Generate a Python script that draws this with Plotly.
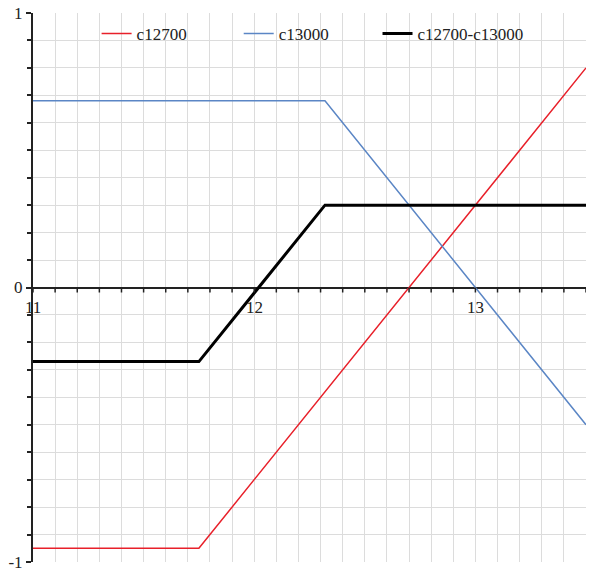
import numpy as np
import plotly.graph_objects as go

# values
x_c12700 = [11.0, 11.75, 13.5]
y_c12700 = [-0.95, -0.95, 0.80]

x_c13000 = [11.0, 12.32, 13.5]
y_c13000 = [0.68, 0.68, -0.50]

x_spread = [11.0, 11.75, 12.32, 13.5]
y_spread = [-0.27, -0.27, 0.30, 0.30]

x_ticks = [11, 12, 13]
y_ticks = [-1, 0, 1]

FONT = "Times New Roman, Liberation Serif, serif"
GRID = "#dcdcdc"

fig = go.Figure()
fig.add_trace(go.Scatter(x=x_c12700, y=y_c12700, mode="lines", name="c12700",
                         line=dict(color="#e8202a", width=1.5), legend="legend"))
fig.add_trace(go.Scatter(x=x_c13000, y=y_c13000, mode="lines", name="c13000",
                         line=dict(color="#5b86c5", width=1.5), legend="legend2"))
fig.add_trace(go.Scatter(x=x_spread, y=y_spread, mode="lines", name="c12700-c13000",
                         line=dict(color="black", width=3), legend="legend3"))

# x axis drawn through y=0: minor ticks as small pixel shapes, labels as annotations
shapes = []
for t in np.arange(11.0, 13.5001, 0.1):
    shapes.append(dict(type="line", xref="x", yref="y", ysizemode="pixel", yanchor=0,
                       x0=t, x1=t, y0=0, y1=-5, line=dict(color="#222", width=1.5)))
annotations = [dict(x=t, y=0, xref="x", yref="y", text=str(t), showarrow=False,
                    yshift=-20, font=dict(family=FONT, size=17, color="#222"))
               for t in x_ticks]


def legend_box(x):
    return dict(orientation="h", x=x, y=0.962, xanchor="left", yanchor="middle",
                bgcolor="rgba(0,0,0,0)", font=dict(family=FONT, size=17, color="#222"))


fig.update_layout(
    width=589, height=574,
    margin=dict(l=33, r=3, t=13, b=12, autoexpand=False),
    plot_bgcolor="white", paper_bgcolor="white",
    font=dict(family=FONT, size=16, color="#222"),
    showlegend=True,
    legend=legend_box(0.115),
    legend2=legend_box(0.372),
    legend3=legend_box(0.623),
    shapes=shapes,
    annotations=annotations,
    xaxis=dict(range=[11, 13.5], dtick=1, showticklabels=False, showgrid=True,
               gridcolor=GRID, zeroline=False, showline=False, automargin=False,
               minor=dict(dtick=0.1, showgrid=True, gridcolor=GRID)),
    yaxis=dict(range=[-1, 1], tickvals=y_ticks, ticktext=["-1", "0", "1"],
               showgrid=True, gridcolor=GRID, zeroline=True, zerolinecolor="#222",
               zerolinewidth=2, showline=True, linecolor="#222", linewidth=2,
               ticks="outside", ticklen=5, tickcolor="#222", tickwidth=1.5,
               tickfont=dict(family=FONT, size=17), automargin=False,
               minor=dict(dtick=0.1, showgrid=True, gridcolor=GRID,
                          ticks="outside", ticklen=4, tickcolor="#222")),
)

# the page's default body margin would shift the figure by 8px
fig.write_html("out.html", config={"displayModeBar": False},
               post_script="document.body.style.margin='0';")
